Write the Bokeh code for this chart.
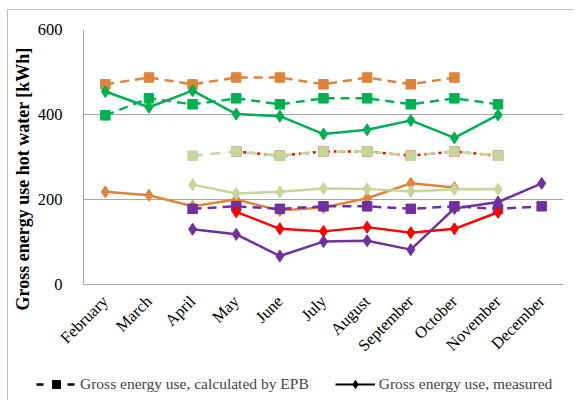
import math
from bokeh.plotting import figure
from bokeh.layouts import column
from bokeh.models import FactorRange, Range1d, Legend, LegendItem, FixedTicker, Title
from bokeh.embed import file_html
from bokeh.resources import INLINE

months = ["February", "March", "April", "May", "June", "July", "August",
          "September", "October", "November", "December"]
N = None
orange_epb = [471, 487, 471, 487, 487, 471, 487, 471, 487, N, N]
green_epb = [398, 438, 424, 438, 424, 438, 438, 424, 438, 424, N]
lgreen_epb = [N, N, 303, 313, 303, 313, 313, 303, 313, 303, N]
red_epb = [N, N, N, 313, 303, 313, 313, 303, 313, 303, N]
purple_epb = [N, N, 178, 184, 178, 184, 184, 178, 184, 178, 184]
orange_meas = [218, 210, 184, 200, 174, 181, 203, 238, 228, N, N]
green_meas = [454, 417, 456, 401, 396, 354, 364, 386, 345, 399, N]
lgreen_meas = [N, N, 235, 214, 218, 226, 225, 219, 224, 224, N]
red_meas = [N, N, N, 171, 131, 125, 135, 122, 131, 170, N]
purple_meas = [N, N, 130, 118, 67, 101, 103, 82, 179, 194, 238]
y_ticks = [0, 200, 400, 600]
y_title = "Gross energy use hot water [kWh]"
legend_labels = ["Gross energy use, calculated by EPB", "Gross energy use, measured"]

ORANGE = "#DE843A"
GREEN = "#00B050"
LGREEN = "#C3D69B"
RED = "#FF0000"
PURPLE = "#7030A0"
FONT = "Liberation Serif"

p = figure(x_range=FactorRange(*months, range_padding=0), y_range=Range1d(0, 600),
           width=566, height=354, output_backend="svg", toolbar_location=None,
           min_border_left=74, min_border_top=19, min_border_right=11, min_border_bottom=70)
p.frame_align = False
p.outline_line_color = None
p.xgrid.grid_line_color = None
p.ygrid.grid_line_color = "#A6A6A6"
p.ygrid.grid_line_width = 1
p.yaxis.ticker = FixedTicker(ticks=y_ticks)
p.yaxis.axis_line_color = "#A6A6A6"
p.yaxis.major_tick_line_color = None
p.yaxis.minor_tick_line_color = None
p.xaxis.axis_line_color = "#A6A6A6"
p.xaxis.major_tick_line_color = None
p.xaxis.minor_tick_line_color = None
for ax in (p.xaxis, p.yaxis):
    ax.major_label_text_font = FONT
    ax.major_label_text_font_size = "16.5px"
    ax.major_label_text_color = "#000000"
p.yaxis.major_label_standoff = 15
p.xaxis.major_label_standoff = 8
p.xaxis.major_label_orientation = math.pi / 4
p.add_layout(Title(text=y_title, align="left", offset=-26, text_font=FONT,
                   text_font_style="bold", text_font_size="18px",
                   text_color="#000000", standoff=4), "left")


def series(vals):
    xs = [m for m, v in zip(months, vals) if v is not None]
    ys = [v for v in vals if v is not None]
    return xs, ys


def epb(vals, color, dash="9 6"):
    xs, ys = series(vals)
    p.line(xs, ys, line_color=color, line_width=2.5, line_dash=dash)
    p.scatter(xs, ys, marker="square", size=9.5, fill_color=color, line_color=color)


def meas(vals, color):
    xs, ys = series(vals)
    p.line(xs, ys, line_color=color, line_width=2.5)
    p.scatter(xs, ys, marker="diamond", size=12, fill_color=color, line_color=color)


meas(orange_meas, ORANGE)
epb(red_epb, RED, "3 4")
epb(lgreen_epb, LGREEN, "10 8")
meas(lgreen_meas, LGREEN)
epb(orange_epb, ORANGE)
epb(green_epb, GREEN)
meas(green_meas, GREEN)
epb(purple_epb, PURPLE)
meas(red_meas, RED)
meas(purple_meas, PURPLE)

# legend strip
q = figure(x_range=Range1d(0, 1), y_range=Range1d(0, 1), width=566, height=36,
           output_backend="svg", toolbar_location=None,
           x_axis_location=None, y_axis_location=None,
           min_border_left=0, min_border_right=0, min_border_top=0, min_border_bottom=0)
q.frame_align = False
q.grid.visible = False
q.outline_line_color = None
l1 = q.line([-5, -4], [-5, -4], line_color="black", line_width=2.5, line_dash="7 24")
s1 = q.scatter([-5], [-5], marker="square", size=8, fill_color="black", line_color="black")
l2 = q.line([-5, -4], [-5, -4], line_color="black", line_width=2)
s2 = q.scatter([-5], [-5], marker="diamond", size=9, fill_color="black", line_color="black")
legend = Legend(items=[LegendItem(label=legend_labels[0], renderers=[l1, s1]),
                       LegendItem(label=legend_labels[1], renderers=[l2, s2])],
                orientation="horizontal", location=(28, 6),
                label_text_font=FONT, label_text_font_size="15.5px",
                glyph_width=40, spacing=26, border_line_color=None,
                background_fill_alpha=0, padding=0, margin=0, label_standoff=4)
q.add_layout(legend, "center")

layout = column(p, q, spacing=0, margin=(9, 0, 0, 7),
                styles={"border-left": "1px solid #BFBFBF", "border-top": "1px solid #BFBFBF"})
open("out.html", "w").write(file_html(layout, INLINE))
